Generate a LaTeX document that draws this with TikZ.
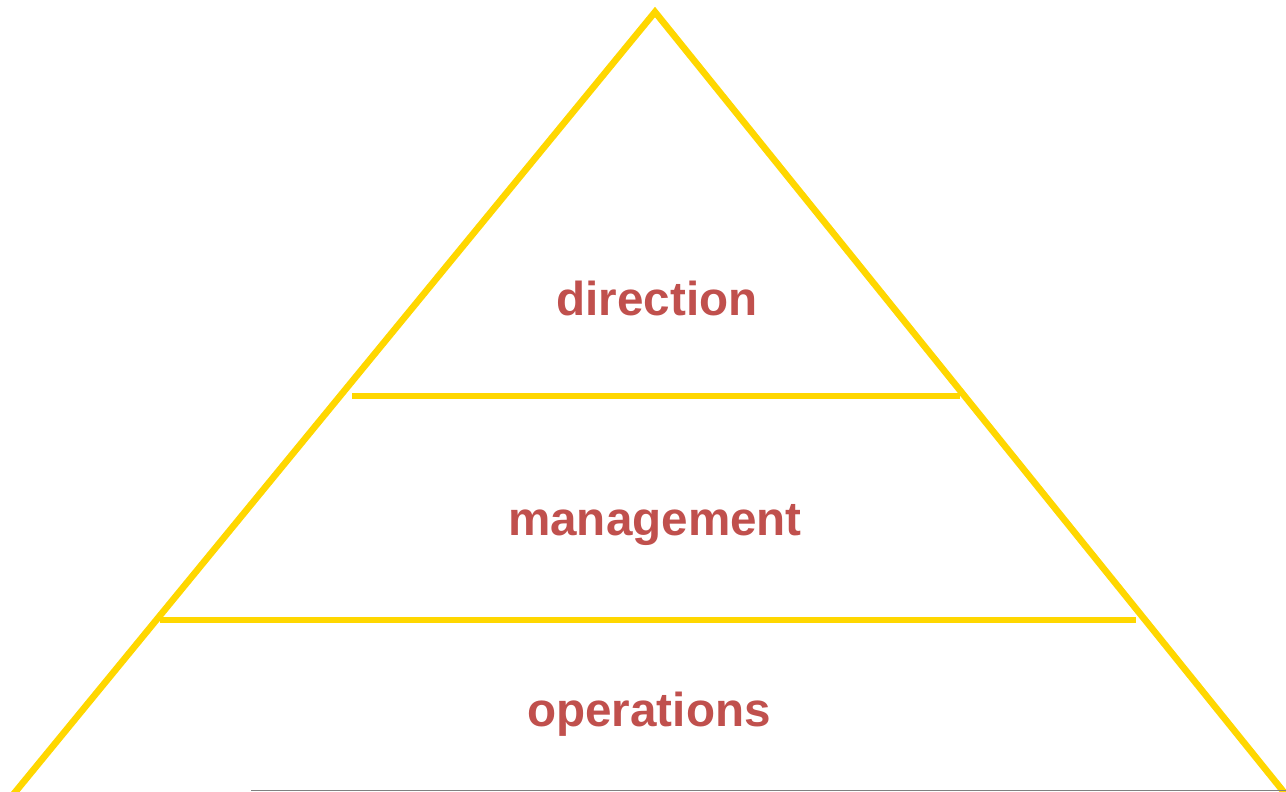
\documentclass[tikz,border=0pt]{standalone}
\usepackage{fontspec}
\setmainfont{Liberation Sans}
\definecolor{pyr}{HTML}{FFD700}
\definecolor{lbl}{HTML}{C0504D}
\begin{document}
\begin{tikzpicture}[x=0.5pt,y=-0.5pt,
  edge/.style={draw=pyr,line width=3.3pt},
  level/.style={font=\bfseries\fontsize{23.8pt}{28pt}\selectfont,text=lbl,anchor=base,inner sep=0pt}]
\useasboundingbox (0,0) rectangle (1286,792);
\coordinate (apex) at (655,12);
\coordinate (bl) at (12,796);
\coordinate (br) at (1287,796);
\draw[edge,line join=miter] (bl) -- (apex) -- (br);
\coordinate (u1) at (352,396);
\coordinate (u2) at (960,396);
\coordinate (m1) at (160,620);
\coordinate (m2) at (1136,620);
\draw[edge] (u1) -- (u2);
\draw[edge] (m1) -- (m2);
\coordinate (g1) at (251,790.5);
\coordinate (g2) at (1286,790.5);
\draw[gray,line width=0.8pt] (g1) -- (g2);
\node[level] (direction) at (657,315) {direction};
\node[level] (management) at (655,535) {management};
\node[level] (operations) at (649,726) {operations};
\end{tikzpicture}
\end{document}
